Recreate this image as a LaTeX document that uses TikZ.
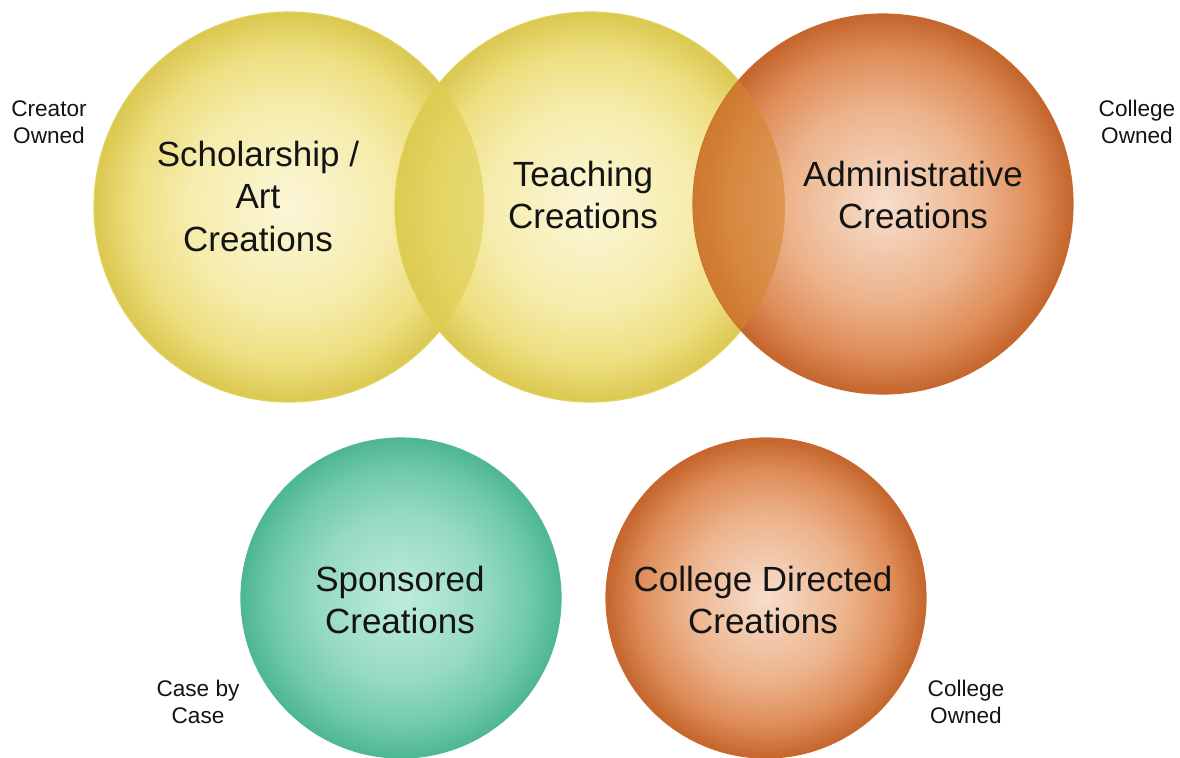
\documentclass[tikz,border=0pt]{standalone}
\usepackage{fontspec}
\setmainfont{Liberation Sans}
\definecolor{ycen}{RGB}{251,246,215}
\definecolor{ymid}{RGB}{246,236,172}
\definecolor{ymid2}{RGB}{237,223,128}
\definecolor{yedge}{RGB}{218,200,80}
\definecolor{yline}{RGB}{226,210,92}
\definecolor{ocen}{RGB}{247,222,204}
\definecolor{omid}{RGB}{236,178,138}
\definecolor{omid2}{RGB}{222,140,88}
\definecolor{oedge}{RGB}{196,101,44}
\definecolor{oline}{RGB}{200,106,48}
\definecolor{tcen}{RGB}{192,235,222}
\definecolor{tmid}{RGB}{150,218,196}
\definecolor{tmid2}{RGB}{112,202,172}
\definecolor{tedge}{RGB}{78,182,148}
\definecolor{tline}{RGB}{80,184,150}
\definecolor{lensy}{RGB}{222,206,80}
\definecolor{lenso}{RGB}{212,134,48}
\definecolor{txt}{RGB}{20,20,20}
\pgfdeclareradialshading{yelshade}{\pgfpoint{0bp}{0bp}}{color(0bp)=(ycen); color(13bp)=(ymid); color(20bp)=(ymid2); color(25bp)=(yedge); color(50bp)=(yedge)}
\pgfdeclareradialshading{orshade}{\pgfpoint{0bp}{0bp}}{color(0bp)=(ocen); color(13bp)=(omid); color(20bp)=(omid2); color(25bp)=(oedge); color(50bp)=(oedge)}
\pgfdeclareradialshading{teshade}{\pgfpoint{0bp}{0bp}}{color(0bp)=(tcen); color(13bp)=(tmid); color(20bp)=(tmid2); color(25bp)=(tedge); color(50bp)=(tedge)}
\tikzset{
  ybub/.style={shading=yelshade, draw=yline, line width=0.6pt},
  obub/.style={shading=orshade, draw=oline, line width=0.6pt},
  tbub/.style={shading=teshade, draw=tline, line width=0.6pt},
  big/.style={font=\fontsize{17.5}{21.25}\selectfont, align=center, text=txt, inner sep=0pt},
  small/.style={font=\fontsize{11.3}{13.5}\selectfont, align=center, text=txt, inner sep=0pt}
}
\begin{document}
\begin{tikzpicture}[x=0.5pt,y=-0.5pt]
\useasboundingbox (0,0) rectangle (1180,757);
\fill[white] (0,0) rectangle (1180,757);
% top row
\path[ybub] (289,207) circle[radius=195];
\path[ybub] (590,207) circle[radius=195];
\begin{scope}
  \clip (289,207) circle[radius=195];
  \fill[lensy, fill opacity=0.6] (590,207) circle[radius=195];
\end{scope}
\path[obub] (883,204) circle[radius=190];
\begin{scope}
  \clip (590,207) circle[radius=195];
  \fill[lenso, fill opacity=0.6] (883,204) circle[radius=190];
\end{scope}
% bottom row
\path[tbub] (401,598) circle[radius=160];
\path[obub] (766,598) circle[radius=160];
% labels
\node[big] (sch) at (258,196) {Scholarship /\\Art\\Creations};
\node[big] (tea) at (583,195) {Teaching\\Creations};
\node[big] (adm) at (913,195) {Administrative\\Creations};
\node[big] (spo) at (400,600) {Sponsored\\Creations};
\node[big] (col) at (763,600) {College Directed\\Creations};
\node[small] (cro) at (49,122) {Creator\\Owned};
\node[small] (co1) at (1137,122) {College\\Owned};
\node[small] (cbc) at (198,702) {Case by\\Case};
\node[small] (co2) at (966,702) {College\\Owned};
\end{tikzpicture}
\end{document}
